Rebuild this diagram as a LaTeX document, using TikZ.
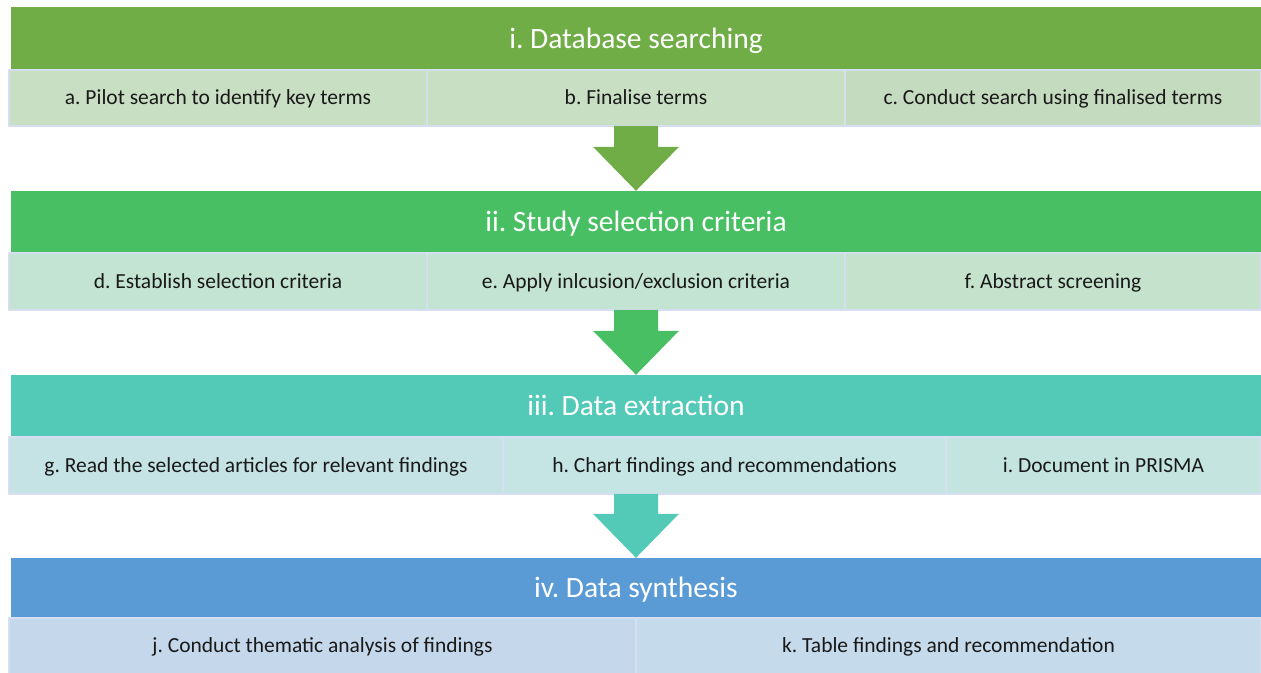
\documentclass[tikz,border=0pt]{standalone}
\usepackage{fontspec}
\setmainfont{Carlito}
\frenchspacing
\usetikzlibrary{calc}
\definecolor{hdrA}{HTML}{70AD47}
\definecolor{hdrB}{HTML}{49BF63}
\definecolor{hdrC}{HTML}{53CAB8}
\definecolor{hdrD}{HTML}{5B9BD5}
\definecolor{rowA}{HTML}{C8DFC3}
\definecolor{rowB}{HTML}{C3E4D2}
\definecolor{rowC}{HTML}{C5E4E4}
\definecolor{rowD}{HTML}{C5D8EB}
\definecolor{edge}{HTML}{D6DFEF}
\begin{document}
\begin{tikzpicture}[x=1pt, y=-1pt, line join=round,
	hdr/.style={rectangle, minimum width=1250pt, inner sep=0pt, text height=19pt, text depth=0pt, text=white, font=\fontsize{29.5}{34}\selectfont},
	subbox/.style={rectangle, draw=edge, line width=1.5pt, inner sep=0pt, text height=14pt, text depth=0.5pt, text=black!90, font=\fontsize{21.5}{25}\selectfont}]
	\useasboundingbox[fill=white] (0,0) rectangle (1261,672);
	% i. database searching
	\node[hdr, fill=hdrA, minimum height=63pt] (hsearch) at (636,38.5) {i. Database searching};
	\node[subbox, fill=rowA, minimum width=418pt, minimum height=56pt] (a) at (218,98) {a. Pilot search to identify key terms};
	\node[subbox, fill=rowA, minimum width=418pt, minimum height=56pt] (b) at (636,98) {b. Finalise terms};
	\node[subbox, fill=rowA!96!gray, minimum width=416pt, minimum height=56pt] (c) at (1053,98) {c. Conduct search using finalised terms};
	% ii. study selection
	\node[hdr, fill=hdrB, minimum height=62pt] (hselect) at (636,222) {ii. Study selection criteria};
	\node[subbox, fill=rowB, minimum width=418pt, minimum height=57pt] (d) at (218,281.5) {d. Establish selection criteria};
	\node[subbox, fill=rowB, minimum width=418pt, minimum height=57pt] (e) at (636,281.5) {e. Apply inlcusion/exclusion criteria};
	\node[subbox, fill=rowB!70!rowA, minimum width=416pt, minimum height=57pt] (f) at (1053,281.5) {f. Abstract screening};
	% iii. data extraction
	\node[hdr, fill=hdrC, minimum height=62pt] (hextract) at (636,406) {iii. Data extraction};
	\node[subbox, fill=rowC!80!rowD, minimum width=494pt, minimum height=57pt] (g) at (256,465.5) {g. Read the selected articles for relevant findings};
	\node[subbox, fill=rowC, minimum width=443pt, minimum height=57pt] (h) at (724.5,465.5) {h. Chart findings and recommendations};
	\node[subbox, fill=rowC!70!rowB, minimum width=315pt, minimum height=57pt] (i) at (1103.5,465.5) {i. Document in PRISMA};
	% iv. data synthesis
	\node[hdr, fill=hdrD, minimum height=60pt] (hsynth) at (636,588) {iv. Data synthesis};
	\node[subbox, fill=rowD, minimum width=627pt, minimum height=56pt] (j) at (322.5,646) {j. Conduct thematic analysis of findings};
	\node[subbox, fill=rowD!85!rowC, minimum width=625pt, minimum height=56pt] (k) at (948.5,646) {k. Table findings and recommendation};
	% block arrows
	\fill[hdrA] (hselect.north) -- ++(-43,-44) -- ++(21,0) -- ++(0,-21) -- ++(44,0) -- ++(0,21) -- ++(21,0) -- cycle;
	\fill[hdrB] (hextract.north) -- ++(-43,-44) -- ++(21,0) -- ++(0,-21) -- ++(44,0) -- ++(0,21) -- ++(21,0) -- cycle;
	\fill[hdrC] (hsynth.north) -- ++(-43,-44) -- ++(21,0) -- ++(0,-20) -- ++(44,0) -- ++(0,20) -- ++(21,0) -- cycle;
\end{tikzpicture}
\end{document}
